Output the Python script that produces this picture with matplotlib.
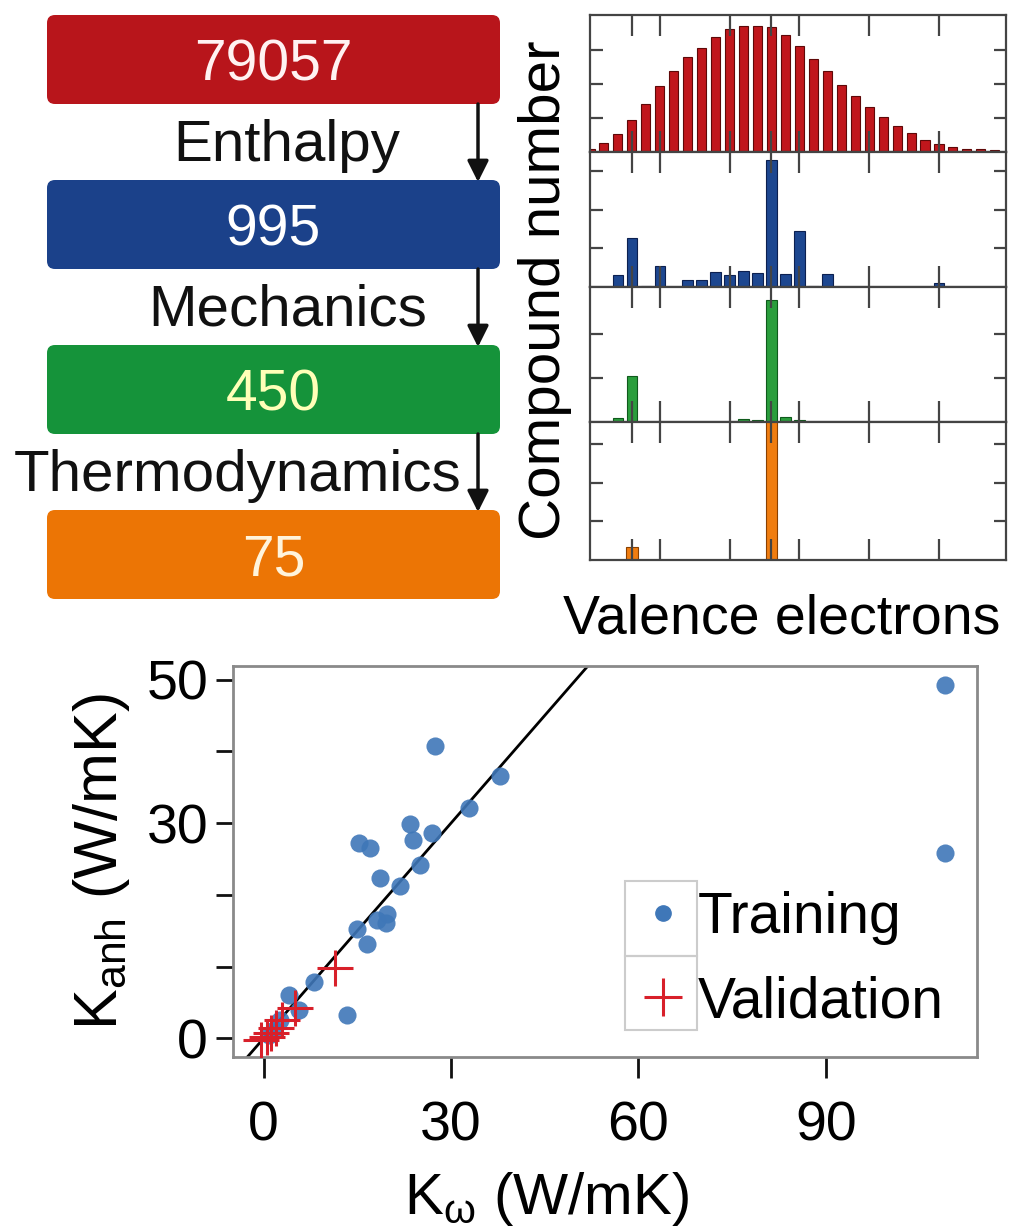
import matplotlib.pyplot as plt
from matplotlib.patches import FancyBboxPatch, Rectangle
from matplotlib.lines import Line2D

plt.rcParams['font.family'] = ['Liberation Sans', 'DejaVu Sans']
plt.rcParams['mathtext.fontset'] = 'custom'
plt.rcParams['mathtext.rm'] = 'Liberation Sans'
plt.rcParams['mathtext.it'] = 'Liberation Sans:italic'

# screening funnel
stage_counts = ["79057", "995", "450", "75"]
stage_filters = ["Enthalpy", "Mechanics", "Thermodynamics"]
stage_colors = ["#b8151b", "#1b418a", "#15933a", "#ec7505"]
stage_text_colors = ["#fff2f2", "#ffffff", "#ffffb8", "#fff4dc"]

# compounds per valence electron count, one row per stage
electrons = list(range(5, 35))
enthalpy_counts = [150, 390, 810, 1425, 2100, 2895, 3555, 4185, 4590, 5070,
                   5400, 5565, 5565, 5520, 5145, 4665, 4095, 3555, 2970, 2475,
                   1980, 1545, 1125, 840, 510, 345, 225, 150, 120, 75]
mechanics_counts = [0, 0, 30, 126, 2, 54, 1, 19, 19, 39,
                    30, 42, 37, 329, 33, 146, 2, 35, 0, 0,
                    0, 1, 0, 0, 0, 10, 0, 0, 0, 0]
thermo_counts = [0, 0, 8, 105, 0, 0, 0, 0, 0, 0,
                 0, 6, 4, 277, 11, 4, 1, 0, 0, 0,
                 0, 0, 0, 0, 0, 0, 0, 0, 0, 0]
final_counts = [0, 0, 0, 5, 0, 0, 0, 0, 0, 0,
                0, 0, 0, 70, 0, 0, 0, 0, 0, 0,
                0, 0, 0, 0, 0, 0, 0, 0, 0, 0]
hist_series = [enthalpy_counts, mechanics_counts, thermo_counts, final_counts]
hist_colors = ["#c0161c", "#1d4790", "#2a9e3c", "#f07d10"]
hist_edges = ["#5e0808", "#0c2050", "#0f5a1c", "#8a4000"]
hist_ylims = [6030, 350, 306, 53.5]
hist_yticks = [[1500, 3000, 4500], [100, 200, 300], [100, 200], [15, 30, 45]]
hist_widths = [0.65, 0.75, 0.75, 0.85]
electron_ticks = [8, 10, 15, 18, 20, 25, 30]

# thermal conductivity comparison (W/mK)
train_kw = [27.5, 37.9, 32.9, 23.5, 27.0, 23.9, 15.2, 17.0, 25.1, 18.7, 21.9,
            19.8, 18.2, 19.6, 14.9, 16.5, 8.1, 4.1, 5.6, 13.4, 2.6, 1.6, 0.8,
            109.0, 109.0]
train_kanh = [40.8, 36.6, 32.1, 29.9, 28.6, 27.6, 27.2, 26.5, 24.1, 22.3, 21.2,
              17.4, 16.5, 16.1, 15.3, 13.2, 7.8, 6.0, 3.9, 3.3, 2.5, 1.1, 0.4,
              49.3, 25.9]
valid_kw = [11.5, 5.0, 3.0, 2.0, 1.2, 0.5, -0.4]
valid_kanh = [9.8, 4.2, 2.5, 1.5, 0.8, 0.2, -0.3]

W, H = 1011, 1230
fig = plt.figure(figsize=(W / 100, H / 100), dpi=100)

# funnel drawn in pixel space
flow = fig.add_axes([0, 0, 1, 1])
flow.set_xlim(0, W)
flow.set_ylim(H, 0)
flow.axis("off")
box_x, box_w, box_h, box_step = 47, 453, 89, 165
for i, (txt, col, tcol) in enumerate(zip(stage_counts, stage_colors, stage_text_colors)):
    top = 15 + i * box_step
    flow.add_patch(FancyBboxPatch((box_x, top), box_w, box_h,
                                  boxstyle="round,pad=0,rounding_size=8",
                                  fc=col, ec="none"))
    flow.text(box_x + box_w / 2, top + box_h / 2 + 6, txt, color=tcol,
              fontsize=41, ha="center", va="center")
label_x = [287, 288, 238]
for i, name in enumerate(stage_filters):
    y0 = 15 + i * box_step + box_h
    y1 = 15 + (i + 1) * box_step
    flow.annotate("", xy=(478, y1 + 2), xytext=(478, y0),
                  arrowprops=dict(arrowstyle="-|>", color="#111111", lw=2.5,
                                  mutation_scale=32, shrinkA=0, shrinkB=0))
    flow.text(label_x[i], (y0 + y1) / 2 + 4, name, fontsize=42,
              ha="center", va="center", color="#111111")

# histograms
panel_px = [(15, 152), (152, 287), (287, 422), (422, 560)]
hx0, hx1 = 590, 1006
for k, (pt, pb) in enumerate(panel_px):
    ax = fig.add_axes([hx0 / W, 1 - pb / H, (hx1 - hx0) / W, (pb - pt) / H])
    ax.bar(electrons, hist_series[k], width=hist_widths[k], color=hist_colors[k],
           edgecolor=hist_edges[k], linewidth=0.8)
    ax.set_xlim(5.0, 34.8)
    ax.set_ylim(0, hist_ylims[k])
    ax.set_xticks(electron_ticks)
    ax.set_yticks(hist_yticks[k])
    ax.tick_params(axis="x", direction="in", top=True, bottom=True, length=15,
                   width=1.6, color="#444444", labelbottom=False)
    ax.tick_params(axis="y", direction="in", left=True, right=True, length=9,
                   width=1.6, color="#444444", labelleft=False)
    for s in ax.spines.values():
        s.set_color("#444444")
        s.set_linewidth(1.6)
fig.text(545 / W, 1 - 290 / H, "Compound number", rotation=90, fontsize=42,
         ha="center", va="center")
fig.text(782 / W, 1 - 620 / H, "Valence electrons", fontsize=40,
         ha="center", va="center")

# scatter
sx0, sx1, sy0, sy1 = 233, 977, 666, 1057
ax = fig.add_axes([sx0 / W, 1 - sy1 / H, (sx1 - sx0) / W, (sy1 - sy0) / H])
ax.axline((0, 0), slope=1, color="black", lw=2, zorder=1)
ax.scatter(train_kw, train_kanh, s=170, color="#3f77b8", alpha=0.9,
           linewidths=0, zorder=2)
ax.plot(valid_kw, valid_kanh, "+", color="#d8202a", markersize=26,
        markeredgewidth=2.2, zorder=3)
ax.set_xlim(-4.9, 114.2)
ax.set_ylim(-2.6, 51.9)
ax.set_xticks([0, 30, 60, 90])
ax.set_yticks([0, 10, 20, 30, 40, 50])
ax.set_yticklabels(["0", "", "", "30", "", "50"])
ax.tick_params(axis="x", direction="out", length=15, width=2, pad=16,
               labelsize=40, color="#111111")
ax.tick_params(axis="y", direction="out", length=12, width=2, pad=6,
               labelsize=40, color="#111111")
for s in ax.spines.values():
    s.set_color("#8a8a8a")
    s.set_linewidth(2)
ax.set_xlabel(r"K$_{\mathrm{ω}}$ (W/mK)", fontsize=42)
ax.xaxis.set_label_coords(0.422, -0.29)
ax.set_ylabel(r"K$_{\mathrm{anh}}$ (W/mK)", fontsize=44, labelpad=10)

handles = [Line2D([], [], ls="none", marker="o", markersize=11,
                  color="#3f77b8", label="Training"),
           Line2D([], [], ls="none", marker="+", markersize=28,
                  markeredgewidth=2.2, color="#d8202a", label="Validation")]
ax.legend(handles=handles, loc="upper left", bbox_to_anchor=(0.5437, 0.4245),
          frameon=False, fontsize=41, handlelength=0.9, handletextpad=0.15,
          labelspacing=0.53, borderpad=0, borderaxespad=0)
cell_l, cell_r = (625 - sx0) / (sx1 - sx0), (697 - sx0) / (sx1 - sx0)
for top, bot in [(881, 956), (956, 1030)]:
    ax.add_patch(Rectangle((cell_l, (sy1 - bot) / (sy1 - sy0)), cell_r - cell_l,
                           (bot - top) / (sy1 - sy0), transform=ax.transAxes,
                           fill=False, ec="#cccccc", lw=1.5))

fig.savefig("out.png", dpi=100)
